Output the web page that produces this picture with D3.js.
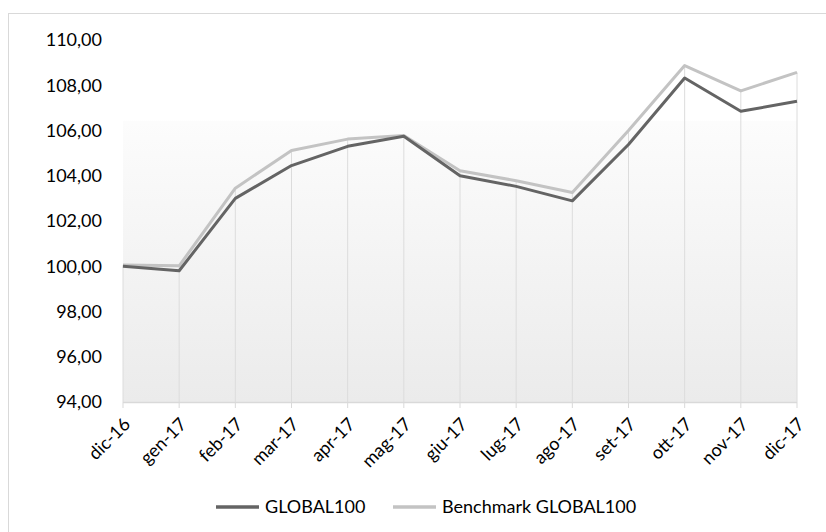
<!doctype html>
<html>
  <head>
    <script src="https://cdnjs.cloudflare.com/ajax/libs/d3/7.8.5/d3.min.js"></script>
    <style>
      body { margin: 0; background: #fff; }
      text { font-family: Lato, "Open Sans", sans-serif; fill: #000; }
    </style>
  </head>
  <body>
    <svg width="826" height="532"></svg>
    <script>
      var months = ["dic-16", "gen-17", "feb-17", "mar-17", "apr-17", "mag-17", "giu-17",
                    "lug-17", "ago-17", "set-17", "ott-17", "nov-17", "dic-17"];
      var global100 = [100.00, 99.80, 103.00, 104.45, 105.30, 105.75, 104.00,
                       103.53, 102.89, 105.38, 108.32, 106.85, 107.29];
      var benchmark = [100.05, 100.02, 103.45, 105.12, 105.62, 105.78, 104.22,
                       103.78, 103.26, 106.00, 108.87, 107.75, 108.57];
      var yTicks = [94, 96, 98, 100, 102, 104, 106, 108, 110];
      var seriesNames = ["GLOBAL100", "Benchmark GLOBAL100"];
      var seriesColors = ["#646464", "#c3c3c3"];

      var svg = d3.select("svg");

      // outer chart border
      svg.append("rect")
        .attr("x", 8.5).attr("y", 13.5)
        .attr("width", 840).attr("height", 540)
        .attr("fill", "none")
        .attr("stroke", "#d9d9d9");

      var x = d3.scalePoint().domain(months).range([123, 797]);
      var y = d3.scaleLinear().domain([94, 110]).range([402, 40]);

      // plot background gradient
      var grad = svg.append("defs").append("linearGradient")
        .attr("id", "bg").attr("x1", 0).attr("y1", 0).attr("x2", 0).attr("y2", 1);
      grad.append("stop").attr("offset", 0).attr("stop-color", "#ffffff");
      grad.append("stop").attr("offset", 0.222).attr("stop-color", "#ffffff");
      grad.append("stop").attr("offset", 0.225).attr("stop-color", "#fcfcfc");
      grad.append("stop").attr("offset", 1).attr("stop-color", "#ebebeb");

      svg.append("rect")
        .attr("x", x.range()[0]).attr("y", y(110))
        .attr("width", x.range()[1] - x.range()[0])
        .attr("height", y(94) - y(110))
        .attr("fill", "url(#bg)");

      // drop lines from the highest point of each category
      svg.selectAll("line.drop")
        .data(months)
        .enter()
        .append("line")
          .attr("class", "drop")
          .attr("x1", d => x(d)).attr("x2", d => x(d))
          .attr("y1", (d, i) => y(Math.max(global100[i], benchmark[i])))
          .attr("y2", y(94))
          .attr("stroke", "#dcdcdc")
          .attr("stroke-width", 1);

      // x axis line and ticks
      svg.append("line")
        .attr("x1", x.range()[0]).attr("x2", x.range()[1])
        .attr("y1", y(94) + 0.5).attr("y2", y(94) + 0.5)
        .attr("stroke", "#d9d9d9").attr("stroke-width", 1.5);

      svg.selectAll("line.tick")
        .data(months)
        .enter()
        .append("line")
          .attr("class", "tick")
          .attr("x1", d => x(d)).attr("x2", d => x(d))
          .attr("y1", y(94)).attr("y2", y(94) + 6)
          .attr("stroke", "#d9d9d9");

      // y labels
      svg.selectAll("text.ylab")
        .data(yTicks)
        .enter()
        .append("text")
          .attr("class", "ylab")
          .attr("x", 102)
          .attr("y", d => y(d))
          .attr("dy", "0.35em")
          .attr("text-anchor", "end")
          .style("font-size", "18px")
          .text(d => d.toFixed(2).replace(".", ","));

      // x labels rotated
      svg.selectAll("text.xlab")
        .data(months)
        .enter()
        .append("text")
          .attr("class", "xlab")
          .attr("transform", d => `translate(${x(d) + 4},${y(94) + 19}) rotate(-45)`)
          .attr("text-anchor", "end")
          .attr("dy", "0.35em")
          .style("font-size", "18px")
          .text(d => d);

      // series lines
      var line = d3.line()
        .x((d, i) => x(months[i]))
        .y(d => y(d));

      [benchmark, global100].forEach((s, k) => {
        svg.append("path")
          .datum(s)
          .attr("d", line)
          .attr("fill", "none")
          .attr("stroke", k === 0 ? seriesColors[1] : seriesColors[0])
          .attr("stroke-width", 3)
          .attr("stroke-linejoin", "round");
      });

      // legend
      var legendX = [216, 393];
      seriesNames.forEach((name, i) => {
        svg.append("line")
          .attr("x1", legendX[i]).attr("x2", legendX[i] + 43)
          .attr("y1", 507).attr("y2", 507)
          .attr("stroke", seriesColors[i])
          .attr("stroke-width", 3.5);
        svg.append("text")
          .attr("x", legendX[i] + 49)
          .attr("y", 507)
          .attr("dy", "0.35em")
          .style("font-size", "18px")
          .text(name);
      });
    </script>
  </body>
</html>
